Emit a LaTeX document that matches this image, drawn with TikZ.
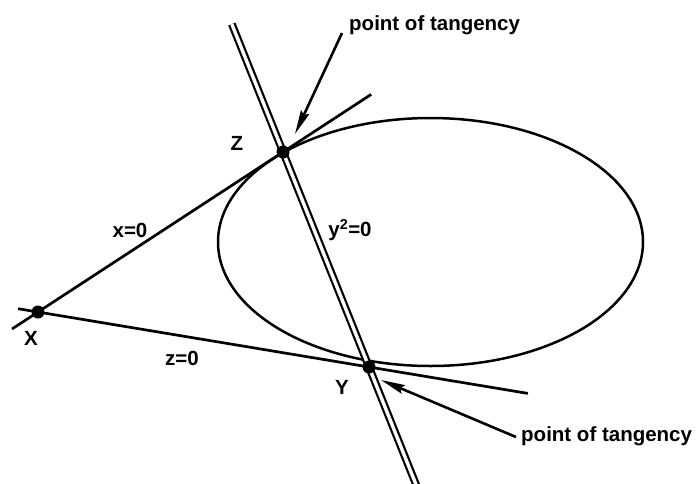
\documentclass[tikz,border=0pt]{standalone}
\usepackage{fontspec}
\setmainfont{Liberation Sans}
\usetikzlibrary{calc,arrows.meta}
\tikzset{
  dot/.style={circle,fill=black,inner sep=0pt,minimum size=13pt},
  lab/.style={font=\bfseries\fontsize{20.5}{24}\selectfont,inner sep=0pt},
  curveline/.style={line width=2.5pt},
  tangline/.style={line width=2.7pt},
  dblline/.style={double,line width=2.2pt,double distance=3.4pt},
  pointer/.style={line width=2.6pt,-{Stealth[length=24pt,width=9pt,inset=3pt]}}
}
\begin{document}
\begin{tikzpicture}[x=1pt,y=-1pt]
\useasboundingbox (0,0) rectangle (696,483);
% point positions
\coordinate (X) at (38,312);
\coordinate (Z) at (283,152);
\coordinate (Y) at (369,367);
% ellipse
\draw[curveline] (430.5,242) ellipse [x radius=212.5, y radius=124];
% tangent lines
\draw[tangline] ($(X)!-0.106!(Z)$) -- ($(X)!1.36!(Z)$);
\draw[tangline] ($(X)!-0.06!(Y)$) -- ($(X)!1.48!(Y)$);
% double line y^2=0
\draw[dblline] ($(Z)!-0.595!(Y)$) -- ($(Z)!1.56!(Y)$);
% points on top
\node[dot] (Xd) at (X) {};
\node[dot] (Zd) at (Z) {};
\node[dot] (Yd) at (Y) {};
% labels
\node[lab] (lX) at (31,338) {X};
\node[lab] (lZ) at (237,143) {Z};
\node[lab] (lY) at (342,387) {Y};
\node[lab] (lx0) at (130,230) {x=0};
\node[lab] (ly0) at (350,230) {y\textsuperscript{2}=0};
\node[lab] (lz0) at (182,358) {z=0};
% pointers
\node[lab,anchor=base west] (pt1) at (349,30) {point of tangency};
\node[lab,anchor=base west] (pt2) at (521,441) {point of tangency};
\coordinate (a1s) at (342,33);
\coordinate (a1e) at (295,134);
\coordinate (a2s) at (516,437);
\coordinate (a2e) at (381,380);
\draw[pointer] (a1s) -- (a1e);
\draw[pointer] (a2s) -- (a2e);
\end{tikzpicture}
\end{document}
